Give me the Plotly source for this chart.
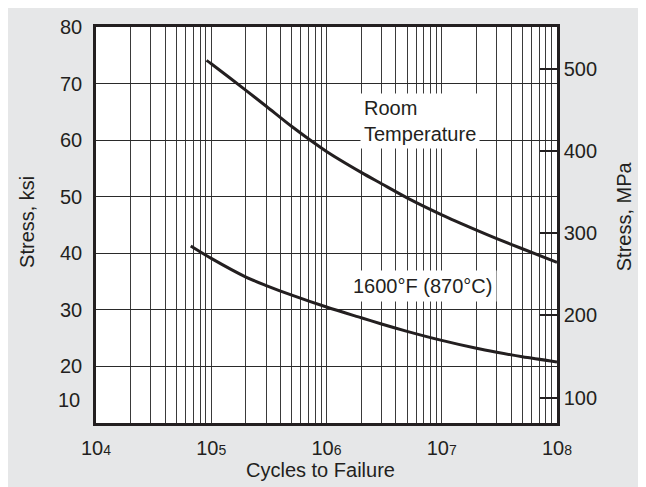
import plotly.graph_objects as go

# ---- data ----
cycles_rt = [9.1e4, 1e5, 2e5, 3e5, 5e5, 1e6, 2e6, 3e6, 5e6, 1e7, 2e7, 3e7, 5e7, 1e8]
stress_rt = [74.1, 73.5, 68.8, 66.0, 62.4, 58.0, 54.3, 52.3, 49.8, 46.8, 44.1, 42.6, 40.8, 38.4]

cycles_hot = [6.64e4, 1e5, 2e5, 3e5, 5e5, 1e6, 2e6, 3e6, 5e6, 1e7, 2e7, 3e7, 5e7, 1e8]
stress_hot = [41.3, 39.1, 35.8, 34.3, 32.6, 30.5, 28.6, 27.5, 26.2, 24.6, 23.2, 22.5, 21.7, 20.8]

decade_exponents = [4, 5, 6, 7, 8]
ksi_ticks = [20, 30, 40, 50, 60, 70, 80]
mpa_ticks = [100, 200, 300, 400, 500]
ksi_range = [10, 80]
KSI_TO_MPA = 6.895

label_rt = "Room<br>Temperature"
label_hot = "1600°F (870°C)"

FONT = "Liberation Sans, Arial, Helvetica, sans-serif"
FS = 20
TXT = "#231f20"
BG = "#e6e7e8"

# x tick values: every 1..9 x decade, labels on decades only
x_tickvals, x_ticktext = [], []
for e in decade_exponents:
    for m in range(1, 10):
        if e == decade_exponents[-1] and m > 1:
            break
        x_tickvals.append(m * 10 ** e)
        x_ticktext.append(f"10<span style='font-size:14px'>{e}</span>" if m == 1 else "")

fig = go.Figure()
fig.add_trace(go.Scatter(x=cycles_rt, y=stress_rt, mode="lines",
                         line=dict(color="#231f20", width=3, shape="spline", smoothing=0.8),
                         showlegend=False, hoverinfo="skip"))
fig.add_trace(go.Scatter(x=cycles_hot, y=stress_hot, mode="lines",
                         line=dict(color="#231f20", width=3, shape="spline", smoothing=0.8),
                         showlegend=False, hoverinfo="skip"))
# empty trace to bind the MPa axis
fig.add_trace(go.Scatter(x=[None], y=[None], yaxis="y2", showlegend=False,
                         hoverinfo="skip"))

fig.update_layout(
    width=638, height=479,
    margin=dict(l=88, r=89, t=19, b=64, autoexpand=False),
    paper_bgcolor=BG,
    plot_bgcolor="white",
    font=dict(family=FONT, size=FS, color=TXT),
    showlegend=False,
    xaxis=dict(
        type="log", range=[4, 8],
        tickmode="array", tickvals=x_tickvals, ticktext=x_ticktext,
        showgrid=True, gridcolor="#3a3a3a", gridwidth=1,
        showline=True, linecolor="#231f20", linewidth=2.5, mirror=True,
        ticks="", ticklabelstandoff=5,
        tickfont=dict(size=FS, color=TXT),
        zeroline=False,
    ),
    yaxis=dict(
        range=ksi_range,
        tickmode="array", tickvals=ksi_ticks,
        showgrid=True, gridcolor="#2a2a2a", gridwidth=1,
        showline=True, linecolor="#231f20", linewidth=2.5, mirror=True,
        ticks="", ticklabelstandoff=7,
        tickfont=dict(size=FS, color=TXT),
        zeroline=False,
    ),
    yaxis2=dict(
        overlaying="y", side="right",
        range=[ksi_range[0] * KSI_TO_MPA, ksi_range[1] * KSI_TO_MPA],
        tickmode="array", tickvals=mpa_ticks,
        showgrid=False, zeroline=False,
        showline=True, linecolor="#231f20", linewidth=2.5,
        ticks="inside", ticklen=17, tickwidth=2, tickcolor="#231f20",
        ticklabelstandoff=0,
        tickfont=dict(size=FS, color=TXT),
    ),
    annotations=[
        dict(text="Stress, ksi", xref="paper", yref="paper", x=-0.1486, y=0.509,
             textangle=-90, showarrow=False, xanchor="center", yanchor="middle",
             font=dict(size=FS, color=TXT)),
        dict(text="Stress, MPa", xref="paper", yref="paper", x=1.1453, y=0.522,
             textangle=-90, showarrow=False, xanchor="center", yanchor="middle",
             font=dict(size=FS, color=TXT)),
        dict(text="Cycles to Failure", xref="paper", yref="paper", x=0.4877, y=-0.1194,
             showarrow=False, xanchor="center", yanchor="middle",
             font=dict(size=FS, color=TXT)),
        dict(text="10", xref="paper", yref="paper", x=-0.031, y=0.0573,
             showarrow=False, xanchor="right", yanchor="middle",
             font=dict(size=FS, color=TXT)),
        dict(text=label_rt, xref="paper", yref="paper", x=0.5727, y=0.8326,
             showarrow=False, xanchor="left", yanchor="top", align="left",
             bgcolor="white", borderpad=3,
             font=dict(size=FS, color=TXT)),
        dict(text=label_hot, xref="paper", yref="paper", x=0.7082, y=0.3452,
             showarrow=False, xanchor="center", yanchor="middle",
             bgcolor="white", borderpad=4,
             font=dict(size=FS, color=TXT)),
    ],
)

fig.write_html("out.html")
